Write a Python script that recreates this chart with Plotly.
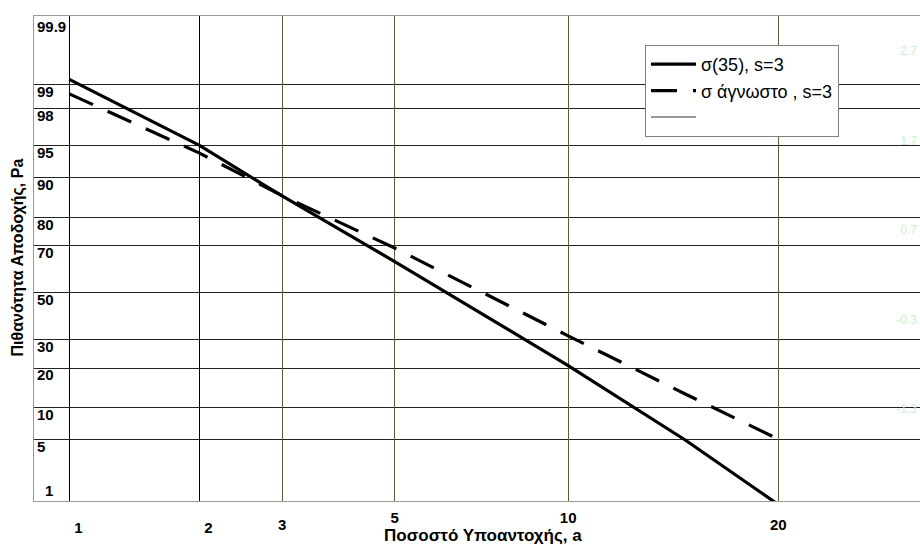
from statistics import NormalDist
import plotly.graph_objects as go

# ---- data ----
a_pct = [1, 2, 3, 5, 10, 15, 20]                                 # Ποσοστό Υποαντοχής, a (%)
pa_sigma_known = [99.14, 95.0, 86.0, 63.6, 20.8, 5.0, 0.9]        # σ(35), s=3
pa_sigma_unknown = [98.68, 94.05, 86.1, 69.1, 31.5, 12.9, 5.1]    # σ άγνωστο , s=3
series_names = ["σ(35), s=3", "σ άγνωστο , s=3", " "]

x_ticks_black = [1, 2]
x_ticks_olive = [3, 20]
x_ticks_raised = [5, 10]
y_ticks = [5, 10, 20, 30, 50, 70, 80, 90, 95, 98, 99]
y_tick_text = ["5", "10", "20", "30", "50", "70", "80", "90", "95", "98", "99"]
y_tick_top = [99.9]
y_tick_top_text = ["99.9"]
y_tick_bottom = [1]
y_tick_bottom_text = ["1"]
z_ticks_right = [-2.3, -1.3, -0.3, 0.7, 1.7, 2.7]
z_ticks_right_text = ["-2.3", "-1.3", "-0.3", "0.7", "1.7", "2.7"]

N = NormalDist()


def probit(pct):
    return N.inv_cdf(pct / 100.0)


FONT = "Liberation Sans, Arial, sans-serif"
W, H = 920, 545
ML, MR, MT, MB = 34, 0, 16, 44
plot_w = W - ML - MR
plot_h = H - MT - MB

x_left = probit(1) - 35.3 / 477.5
x_range = [x_left, x_left + plot_w / 477.5]
y_range = [probit(1), probit(99.9)]

fig = go.Figure()
fig.add_trace(go.Scatter(
    x=[probit(a) for a in a_pct], y=[probit(p) for p in pa_sigma_known],
    mode="lines", name=series_names[0],
    line=dict(color="#000000", width=3.2),
    xaxis="x", yaxis="y"))
fig.add_trace(go.Scatter(
    x=[probit(a) for a in a_pct], y=[probit(p) for p in pa_sigma_unknown],
    mode="lines", name=series_names[1],
    line=dict(color="#000000", width=3.2, dash="26px,16px"),
    xaxis="x2", yaxis="y"))
fig.add_trace(go.Scatter(
    x=[None], y=[None], mode="lines", name=series_names[2],
    line=dict(color="#333333", width=1),
    xaxis="x3", yaxis="y2"))
fig.add_trace(go.Scatter(
    x=[None], y=[None], mode="lines", showlegend=False,
    xaxis="x", yaxis="y3"))
fig.add_trace(go.Scatter(
    x=[None], y=[None], mode="lines", showlegend=False,
    xaxis="x2", yaxis="y4"))

tick_font = dict(family=FONT, size=15, color="#000000", weight="bold")
common_x = dict(range=x_range, zeroline=False, ticks="", fixedrange=True)
common_y = dict(range=y_range, zeroline=False, ticks="", fixedrange=True)

fig.update_layout(
    width=W, height=H,
    margin=dict(l=ML, r=MR, t=MT, b=MB, pad=0),
    paper_bgcolor="#ffffff", plot_bgcolor="#ffffff",
    font=dict(family=FONT, color="#000000"),
    showlegend=True,
    legend=dict(
        x=(645 - ML) / plot_w, y=(H - MB - 45) / plot_h,
        xanchor="left", yanchor="top",
        bgcolor="#ffffff", bordercolor="#808080", borderwidth=1,
        font=dict(family=FONT, size=18, color="#000000"),
        itemwidth=45, tracegroupgap=0,
    ),
    xaxis=dict(
        **common_x,
        tickvals=[probit(v) for v in x_ticks_black],
        ticktext=[str(v) for v in x_ticks_black],
        tickfont=tick_font,
        ticklabelshift=9, ticklabelstandoff=13,
        showgrid=True, gridcolor="#000000", gridwidth=1,
        showline=True, linecolor="#9a9a9a", linewidth=1, mirror=True,
        anchor="y",
    ),
    xaxis2=dict(
        **common_x,
        overlaying="x", anchor="y",
        tickvals=[probit(v) for v in x_ticks_olive],
        ticktext=[str(v) for v in x_ticks_olive],
        tickfont=tick_font,
        ticklabelstandoff=13,
        showgrid=True, gridcolor="#5b5b35", gridwidth=1,
        showline=False,
    ),
    xaxis3=dict(
        **common_x,
        overlaying="x", anchor="y",
        tickvals=[probit(v) for v in x_ticks_raised],
        ticktext=[str(v) for v in x_ticks_raised],
        tickfont=tick_font,
        ticklabelstandoff=6,
        showgrid=True, gridcolor="#5b5b35", gridwidth=1,
        showline=False,
    ),
    yaxis=dict(
        **common_y,
        tickvals=[probit(v) for v in y_ticks],
        ticktext=y_tick_text,
        tickfont=tick_font,
        ticklabelposition="inside", ticklabelshift=7, ticklabelstandoff=3,
        showgrid=True, gridcolor="#222222", gridwidth=1,
        showline=True, linecolor="#9a9a9a", linewidth=1,
        anchor="x",
    ),
    yaxis3=dict(
        **common_y,
        overlaying="y", anchor="x",
        tickvals=[probit(v) for v in y_tick_bottom],
        ticktext=y_tick_bottom_text,
        tickfont=tick_font,
        ticklabelposition="inside", ticklabelshift=-10, ticklabelstandoff=8,
        showgrid=False, showline=False,
    ),
    yaxis4=dict(
        **common_y,
        overlaying="y", anchor="x",
        tickvals=[probit(v) for v in y_tick_top],
        ticktext=y_tick_top_text,
        tickfont=tick_font,
        ticklabelposition="inside", ticklabelshift=11, ticklabelstandoff=0,
        showgrid=True, gridcolor="#222222", gridwidth=1, showline=False,
    ),
    yaxis2=dict(
        **common_y,
        overlaying="y", side="right", anchor="x3",
        tickvals=z_ticks_right, ticktext=z_ticks_right_text,
        tickfont=dict(family=FONT, size=12, color="#c8f2c8"),
        ticklabelposition="inside",
        showgrid=False, showline=False,
    ),
    annotations=[
        dict(text="<b>Ποσοστό Υποαντοχής, a</b>", xref="paper", yref="paper",
             x=(483 - ML) / plot_w, y=-(535 - (H - MB)) / plot_h,
             xanchor="center", yanchor="middle", showarrow=False,
             font=dict(family=FONT, size=17, color="#000000")),
        dict(text="<b>Πιθανότητα Αποδοχής, Pa</b>", xref="paper", yref="paper",
             x=(17.5 - ML) / plot_w, y=(H - MB - 258) / plot_h,
             xanchor="center", yanchor="middle", textangle=-90, showarrow=False,
             font=dict(family=FONT, size=16, color="#000000")),
    ],
)

fig.write_html("out.html")
